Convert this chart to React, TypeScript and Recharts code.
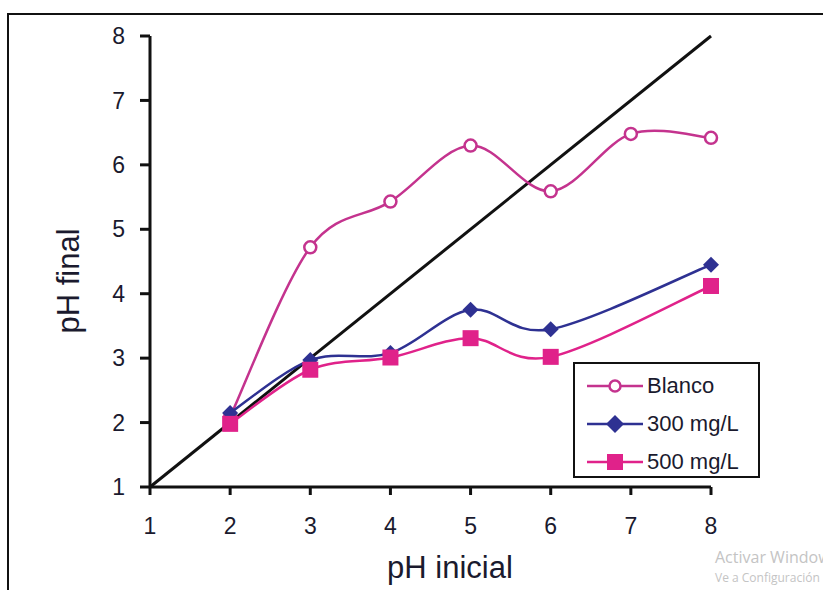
import React from 'react'
import { LineChart, Line, XAxis, YAxis, Label } from 'recharts'

const phInicial = [1, 2, 3, 4, 5, 6, 7, 8]
const blanco = [null, 2.09, 4.72, 5.43, 6.3, 5.59, 6.48, 6.42]
const mg300 = [null, 2.15, 2.97, 3.08, 3.75, 3.45, null, 4.45]
const mg500 = [null, 1.98, 2.82, 3.01, 3.31, 3.02, null, 4.12]
const identidad = [1, null, null, null, null, null, null, 8]
const ticks = [1, 2, 3, 4, 5, 6, 7, 8]

const data = phInicial.map((x, i) => ({
  x,
  blanco: blanco[i],
  mg300: mg300[i],
  mg500: mg500[i],
  ref: identidad[i],
}))

// Excel-like smoothed line (Catmull-Rom)
const smooth = (ctx: any) => {
  let pts: [number, number][] = []
  return {
    areaStart() {},
    areaEnd() {},
    lineStart() { pts = [] },
    point(x: number, y: number) { pts.push([x, y]) },
    lineEnd() {
      if (!pts.length) return
      ctx.moveTo(pts[0][0], pts[0][1])
      for (let i = 0; i < pts.length - 1; i++) {
        const p0 = pts[i - 1] || pts[i]
        const p1 = pts[i]
        const p2 = pts[i + 1]
        const p3 = pts[i + 2] || p2
        const t = 1 / 6
        ctx.bezierCurveTo(
          p1[0] + (p2[0] - p0[0]) * t, p1[1] + (p2[1] - p0[1]) * t,
          p2[0] - (p3[0] - p1[0]) * t, p2[1] - (p3[1] - p1[1]) * t,
          p2[0], p2[1]
        )
      }
    },
  }
}

const C_BLANCO = '#C4338E'
const C_300 = '#2E3192'
const C_500 = '#E0228A'
const TXT = '#1a1a2e'

const CircleDot = (p: any) =>
  p.value == null ? <g key={p.index} /> : (
    <circle key={p.index} cx={p.cx} cy={p.cy} r={6} fill="#fff" stroke={C_BLANCO} strokeWidth={2.5} />
  )

const DiamondDot = (p: any) =>
  p.value == null ? <g key={p.index} /> : (
    <path key={p.index} d={`M${p.cx},${p.cy - 8}L${p.cx + 8},${p.cy}L${p.cx},${p.cy + 8}L${p.cx - 8},${p.cy}Z`} fill={C_300} />
  )

const SquareDot = (p: any) =>
  p.value == null ? <g key={p.index} /> : (
    <rect key={p.index} x={p.cx - 8} y={p.cy - 8} width={16} height={16} fill={C_500} />
  )

const font = 'Liberation Sans, Arial, sans-serif'

const legend = [
  { name: 'Blanco', color: C_BLANCO, kind: 'circle' },
  { name: '300 mg/L', color: C_300, kind: 'diamond' },
  { name: '500 mg/L', color: C_500, kind: 'square' },
]

export default function App() {
  return (
    <div style={{ position: 'absolute', left: 0, top: 0, width: 823, height: 590, overflow: 'hidden', background: '#fff', fontFamily: font }}>
      <div style={{ position: 'absolute', left: 7, top: 13, width: 840, height: 600, border: '2px solid #111' }} />
      <LineChart
        width={823}
        height={590}
        data={data}
        margin={{ top: 36, right: 112, bottom: 63, left: 90 }}
        style={{ position: 'absolute', left: 0, top: 0 }}
      >
        <XAxis
          dataKey="x"
          type="number"
          domain={[1, 8]}
          ticks={ticks}
          height={40}
          tick={{ fill: TXT, fontSize: 23, fontFamily: font }}
          tickSize={8}
          tickMargin={23}
          axisLine={{ stroke: '#111', strokeWidth: 3 }}
          tickLine={{ stroke: '#111', strokeWidth: 3 }}
        >
          <Label
            content={() => (
              <text x={450} y={578} textAnchor="middle" fontSize={31} fill={TXT} fontFamily={font}>pH inicial</text>
            )}
          />
        </XAxis>
        <YAxis
          type="number"
          domain={[1, 8]}
          ticks={ticks}
          width={60}
          tick={{ fill: TXT, fontSize: 23, fontFamily: font }}
          tickSize={10}
          tickMargin={15}
          axisLine={{ stroke: '#111', strokeWidth: 3 }}
          tickLine={{ stroke: '#111', strokeWidth: 3 }}
        >
          <Label
            content={() => (
              <text x={79} y={281} textAnchor="middle" fontSize={31} fill={TXT} fontFamily={font} transform="rotate(-90 79 281)">pH final</text>
            )}
          />
        </YAxis>
        <Line dataKey="ref" stroke="#111" strokeWidth={3} dot={false} connectNulls isAnimationActive={false} />
        <Line dataKey="blanco" type={smooth as any} stroke={C_BLANCO} strokeWidth={2.5} dot={CircleDot} connectNulls isAnimationActive={false} />
        <Line dataKey="mg300" type={smooth as any} stroke={C_300} strokeWidth={2.5} dot={DiamondDot} connectNulls isAnimationActive={false} />
        <Line dataKey="mg500" type={smooth as any} stroke={C_500} strokeWidth={2.5} dot={SquareDot} connectNulls isAnimationActive={false} />
      </LineChart>
      <div style={{ position: 'absolute', left: 573, top: 362, width: 183, height: 112, border: '2px solid #111', background: '#fff' }}>
        {legend.map((l, i) => (
          <div key={l.name} style={{ position: 'absolute', left: 10, top: 8 + i * 38, height: 28, display: 'flex', alignItems: 'center' }}>
            <svg width={60} height={28}>
              <line x1={2} y1={14} x2={58} y2={14} stroke={l.color} strokeWidth={2.5} />
              {l.kind === 'circle' && <circle cx={30} cy={14} r={5.5} fill="#fff" stroke={l.color} strokeWidth={2.5} />}
              {l.kind === 'diamond' && <path d="M30,5L39,14L30,23L21,14Z" fill={l.color} />}
              {l.kind === 'square' && <rect x={22} y={6} width={16} height={16} fill={l.color} />}
            </svg>
            <span style={{ fontSize: 22, color: TXT, marginLeft: 2 }}>{l.name}</span>
          </div>
        ))}
      </div>
      <div style={{ position: 'absolute', left: 715, top: 546, fontSize: 16, color: '#c4c4c4', fontFamily: 'Open Sans, sans-serif', whiteSpace: 'nowrap' }}>Activar Windows</div>
      <div style={{ position: 'absolute', left: 715, top: 569, fontSize: 12, color: '#c4c4c4', fontFamily: 'Open Sans, sans-serif', whiteSpace: 'nowrap' }}>Ve a Configuración para activar Windows.</div>
    </div>
  )
}
